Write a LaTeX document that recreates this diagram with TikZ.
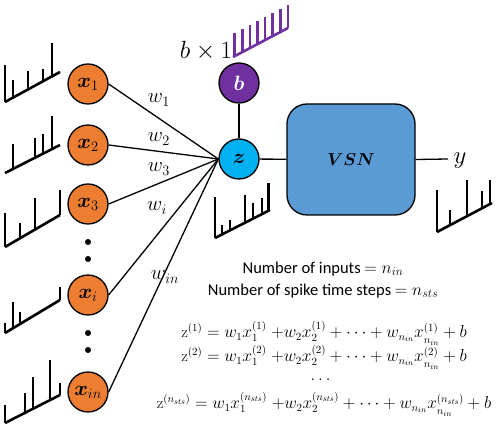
\documentclass[tikz,border=0pt]{standalone}
\usepackage{amsmath}
\usepackage{bm}
\usepackage{fontspec}
\newfontfamily\calib{Carlito}
\usetikzlibrary{calc}
\definecolor{xorange}{HTML}{ED7D31}
\definecolor{bpurple}{HTML}{7030A0}
\definecolor{zcyan}{HTML}{00B0F0}
\definecolor{vsnblue}{HTML}{5B9BD5}
\newcommand{\strain}[4][black]{%
  \draw[train,#1] #2 -- #3;
  \foreach \t/\h in {#4} {\draw[train,#1] ($#2!\t!#3$) -- ++(0,-\h);}
}
\newcommand{\lowsub}{\raisebox{-1.5pt}{$\scriptstyle n_{in}$}}
\begin{document}
\begin{tikzpicture}[x=1pt,y=-1pt,
  train/.style={line width=2.6pt,line join=miter},
  neuron/.style={circle,draw=black,line width=1.3pt,minimum size=40pt,inner sep=0pt,font=\fontsize{22}{22}\selectfont},
  xnode/.style={neuron,fill=xorange},
  edge/.style={line width=1.3pt},
  wlab/.style={font=\fontsize{22}{22}\selectfont,inner sep=0pt},
  eq/.style={font=\fontsize{16.2}{18}\selectfont,inner sep=0pt},
  txt/.style={font=\calib\fontsize{16.5}{18}\selectfont,inner sep=0pt},
  dot/.style={circle,fill=black,inner sep=0pt,minimum size=6pt}
]
\useasboundingbox (0,0) rectangle (499,430);

% input nodes
\node[xnode] (x1) at (88,84) {$\bm{x}_1$};
\node[xnode] (x2) at (88,145) {$\bm{x}_2$};
\node[xnode] (x3) at (88,204) {$\bm{x}_3$};
\node[dot] (d1) at (88,242) {};
\node[dot] (d2) at (88,259) {};
\node[xnode] (xi) at (88,295) {$\bm{x}_i$};
\node[dot] (d3) at (88,333) {};
\node[dot] (d4) at (88,350) {};
\node[xnode] (xin) at (88,392) {$\bm{x}_{in}$};

% z and b
\node[neuron,fill=zcyan] (z) at (239,159) {$\bm{z}$};
\node[neuron,fill=bpurple,text=white] (b) at (239,83) {$\bm{b}$};
\node[font=\fontsize{23}{23}\selectfont,inner sep=0pt] (bx) at (206,51) {$b\times 1$};

% VSN
\node[draw=black,line width=1.3pt,fill=vsnblue,rounded corners=20pt,minimum width=128pt,minimum height=111pt,font=\fontsize{17}{17}\selectfont] (vsn) at (351,159.5) {$\bm{VSN}$};
\coordinate (yend) at (448,159);
\node[font=\fontsize{24}{24}\selectfont,inner sep=0pt] (ylab) at (460,161) {$y$};

% connectors
\foreach \n in {x1,x2,x3,xi,xin} \draw[edge] (\n.east) -- (z.west);
\draw[edge] (b) -- (z);
\draw[edge] (z) -- (vsn);
\draw[edge] (vsn.east) -- (yend);

% weight labels
\node[wlab] (w1) at (159,100) {$w_1$};
\node[wlab] (w2) at (159,139) {$w_2$};
\node[wlab] (w3) at (159,169) {$w_3$};
\node[wlab] (wi) at (157,208) {$w_i$};
\node[wlab] (win) at (165,277) {$w_{in}$};

% spike trains
\strain{(5,102)}{(60,72)}{0/37,0.145/18,0.42/18,0.69/12,0.855/33}
\strain{(5,173)}{(60,145)}{0.145/25,0.545/20,0.69/20,0.855/33}
\strain{(5,247)}{(60,215)}{0/34,0.27/15,0.545/32,1/25}
\strain{(5,333)}{(60,300)}{0/10,0.145/26,0.27/12,1/13}
\strain{(5,423)}{(60,395)}{0/18,0.36/20,0.51/32,0.82/40,1/12}
\strain{(215,238)}{(270,210)}{0/41,0.127/9,0.27/10,0.545/28,0.69/16,0.855/16,0.97/28}
\strain{(437,232)}{(492,203)}{0/42,0.236/15,0.545/36,0.82/17,0.96/24}
\strain[bpurple]{(233,57)}{(288,28)}{0.03/23,0.1686/23,0.3071/23,0.4457/23,0.5843/23,0.7229/23,0.8614/23,1/23}

% texts
\node[txt] (t1) at (323,269) {Number of inputs $=n_{in}$};
\node[txt] (t2) at (323,291) {Number of spike time steps $=n_{sts}$};

\node[eq] (e1) at (324,333) {$\mathrm{z}^{(1)} = w_1x_1^{(1)}\ {+}w_2x_2^{(1)} + \cdots + w_{n_{in}}x_{\lowsub}^{(1)} + b$};
\node[eq] (e2) at (324,357) {$\mathrm{z}^{(2)} = w_1x_1^{(2)}\ {+}w_2x_2^{(2)} + \cdots + w_{n_{in}}x_{\lowsub}^{(2)} + b$};
\node[eq] (edots) at (322,380) {$\dots$};
\node[eq] (e3) at (324,404) {$\mathrm{z}^{(n_{sts})} = w_1x_1^{(n_{sts})}\ {+}w_2x_2^{(n_{sts})} + \cdots + w_{n_{in}}x_{\lowsub}^{(n_{sts})} + b$};
\end{tikzpicture}
\end{document}
